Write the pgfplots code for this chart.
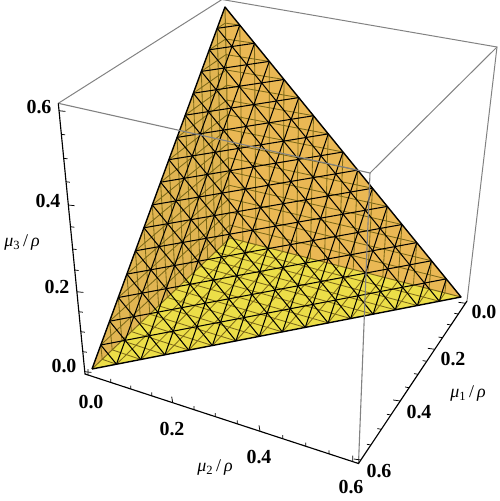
\documentclass[border=0pt]{standalone}
\usepackage{fontspec}
\setmainfont{Liberation Serif}
\usepackage{pgfplots}
\pgfplotsset{compat=1.18}

\definecolor{faceL}{RGB}{225,181,82}
\definecolor{faceR}{RGB}{234,184,84}
\definecolor{faceB}{RGB}{236,222,72}
\definecolor{backmesh}{RGB}{125,105,25}
\definecolor{boxgray}{RGB}{130,130,130}

\newcommand{\tl}[1]{\fontsize{20}{22}\selectfont\bfseries #1}
\newcommand{\al}[2]{\fontsize{18}{20}\selectfont\textit{μ}\textsubscript{#1}\,/\,\textit{ρ}}

\begin{document}
\begin{tikzpicture}
\path[use as bounding box] (0,0) rectangle (500bp,501bp);
\begin{axis}[
  at={(0,0)}, anchor=south west,
  scale only axis, width=500bp, height=501bp,
  xmin=0, xmax=500, ymin=0, ymax=501,
  y dir=reverse,
  hide axis,
  clip=false,
  unbounded coords=jump,
]
% the box is in perspective, so everything is given in projected picture coordinates

% back box edges
\addplot[boxgray, line width=1pt] coordinates {(58.3,103.3) (222,-0.5) (497,47) (467,301)};
\addplot[boxgray, line width=1pt] coordinates {(497,47) (370,173)};

% faces of the simplex
\addplot[fill=faceL, draw=none] coordinates {(92,369) (230,238) (225,7)};
\addplot[fill=faceR, draw=none] coordinates {(461,297) (230,238) (225,7)};
\addplot[fill=faceB, draw=none] coordinates {(92,369) (230,238) (461,297)};

% mesh on the three back faces
\addplot[backmesh, line width=0.85pt] coordinates {
(116.5,364.2) (102.2,359.3) (100.8,345.0) (nan,nan)
(140.8,359.5) (112.2,349.8) (109.6,321.2) (nan,nan)
(164.9,354.8) (121.9,340.6) (118.3,297.5) (nan,nan)
(188.7,350.1) (131.4,331.6) (126.9,274.1) (nan,nan)
(212.4,345.5) (140.7,322.8) (135.4,250.8) (nan,nan)
(235.9,340.9) (149.8,314.2) (143.9,227.8) (nan,nan)
(259.3,336.4) (158.6,305.8) (152.3,204.9) (nan,nan)
(282.4,331.9) (167.3,297.5) (160.6,182.2) (nan,nan)
(305.3,327.4) (175.7,289.5) (168.9,159.7) (nan,nan)
(328.1,322.9) (184.0,281.7) (177.1,137.4) (nan,nan)
(350.7,318.5) (192.1,274.0) (185.2,115.2) (nan,nan)
(373.1,314.2) (200.0,266.5) (193.3,93.2) (nan,nan)
(395.3,309.8) (207.7,259.1) (201.3,71.4) (nan,nan)
(417.4,305.5) (215.3,251.9) (209.3,49.8) (nan,nan)
(439.3,301.2) (222.7,244.9) (217.2,28.3)
};
\addplot[backmesh, line width=0.85pt] coordinates {
(116.5,364.2) (242.9,241.3) (239.75,25.1) (nan,nan)
(140.8,359.5) (256.0,244.6) (254.5,43.25) (nan,nan)
(164.9,354.8) (269.3,248.0) (269.25,61.4) (nan,nan)
(188.7,350.1) (282.8,251.5) (284,79.5) (nan,nan)
(212.4,345.5) (296.4,255.0) (298.75,97.6) (nan,nan)
(235.9,340.9) (310.3,258.5) (313.5,115.75) (nan,nan)
(259.3,336.4) (324.4,262.1) (328.25,133.9) (nan,nan)
(282.4,331.9) (338.7,265.8) (343,152) (nan,nan)
(305.3,327.4) (353.2,269.5) (357.75,170.1) (nan,nan)
(328.1,322.9) (367.9,273.2) (372.5,188.25) (nan,nan)
(350.7,318.5) (382.8,277.0) (387.25,206.4) (nan,nan)
(373.1,314.2) (398.0,280.9) (402,224.5) (nan,nan)
(395.3,309.8) (413.4,284.8) (416.75,242.6) (nan,nan)
(417.4,305.5) (429.0,288.8) (431.5,260.75) (nan,nan)
(439.3,301.2) (444.9,292.9) (446.25,278.9)
};
\addplot[backmesh, line width=0.85pt] coordinates {
(100.8,345.0) (229.7,225.1) (446.25,278.9) (nan,nan)
(109.6,321.2) (229.4,212.0) (431.5,260.75) (nan,nan)
(118.3,297.5) (229.1,198.7) (416.75,242.6) (nan,nan)
(126.9,274.1) (228.9,185.2) (402,224.5) (nan,nan)
(135.4,250.8) (228.6,171.6) (387.25,206.4) (nan,nan)
(143.9,227.8) (228.3,157.7) (372.5,188.25) (nan,nan)
(152.3,204.9) (228.0,143.6) (357.75,170.1) (nan,nan)
(160.6,182.2) (227.6,129.3) (343,152) (nan,nan)
(168.9,159.7) (227.3,114.8) (328.25,133.9) (nan,nan)
(177.1,137.4) (227.0,100.1) (313.5,115.75) (nan,nan)
(185.2,115.2) (226.7,85.2) (298.75,97.6) (nan,nan)
(193.3,93.2) (226.4,70.0) (284,79.5) (nan,nan)
(201.3,71.4) (226.0,54.6) (269.25,61.4) (nan,nan)
(209.3,49.8) (225.7,39.0) (254.5,43.25) (nan,nan)
(217.2,28.3) (225.3,23.1) (239.75,25.1)
};
% inner edges of the simplex
\addplot[backmesh, line width=1pt] coordinates {(92,369) (230,238) (461,297) (nan,nan) (230,238) (225,7)};

% mesh on the front face
\addplot[black, line width=1.05pt] coordinates {
(116.5,364.2) (100.8,345.0) (nan,nan)
(140.8,359.5) (109.6,321.2) (nan,nan)
(164.9,354.8) (118.3,297.5) (nan,nan)
(188.7,350.1) (126.9,274.1) (nan,nan)
(212.4,345.5) (135.4,250.8) (nan,nan)
(235.9,340.9) (143.9,227.8) (nan,nan)
(259.3,336.4) (152.3,204.9) (nan,nan)
(282.4,331.9) (160.6,182.2) (nan,nan)
(305.3,327.4) (168.9,159.7) (nan,nan)
(328.1,322.9) (177.1,137.4) (nan,nan)
(350.7,318.5) (185.2,115.2) (nan,nan)
(373.1,314.2) (193.3,93.2) (nan,nan)
(395.3,309.8) (201.3,71.4) (nan,nan)
(417.4,305.5) (209.3,49.8) (nan,nan)
(439.3,301.2) (217.2,28.3)
};
\addplot[black, line width=1.05pt] coordinates {
(116.5,364.2) (239.75,25.1) (nan,nan)
(140.8,359.5) (254.5,43.25) (nan,nan)
(164.9,354.8) (269.25,61.4) (nan,nan)
(188.7,350.1) (284,79.5) (nan,nan)
(212.4,345.5) (298.75,97.6) (nan,nan)
(235.9,340.9) (313.5,115.75) (nan,nan)
(259.3,336.4) (328.25,133.9) (nan,nan)
(282.4,331.9) (343,152) (nan,nan)
(305.3,327.4) (357.75,170.1) (nan,nan)
(328.1,322.9) (372.5,188.25) (nan,nan)
(350.7,318.5) (387.25,206.4) (nan,nan)
(373.1,314.2) (402,224.5) (nan,nan)
(395.3,309.8) (416.75,242.6) (nan,nan)
(417.4,305.5) (431.5,260.75) (nan,nan)
(439.3,301.2) (446.25,278.9)
};
\addplot[black, line width=1.05pt] coordinates {
(100.8,345.0) (446.25,278.9) (nan,nan)
(109.6,321.2) (431.5,260.75) (nan,nan)
(118.3,297.5) (416.75,242.6) (nan,nan)
(126.9,274.1) (402,224.5) (nan,nan)
(135.4,250.8) (387.25,206.4) (nan,nan)
(143.9,227.8) (372.5,188.25) (nan,nan)
(152.3,204.9) (357.75,170.1) (nan,nan)
(160.6,182.2) (343,152) (nan,nan)
(168.9,159.7) (328.25,133.9) (nan,nan)
(177.1,137.4) (313.5,115.75) (nan,nan)
(185.2,115.2) (298.75,97.6) (nan,nan)
(193.3,93.2) (284,79.5) (nan,nan)
(201.3,71.4) (269.25,61.4) (nan,nan)
(209.3,49.8) (254.5,43.25) (nan,nan)
(217.2,28.3) (239.75,25.1)
};
\addplot[black, line width=1.4pt, line join=round] coordinates {(92,369) (461,297) (225,7) (92,369)};

% front box edges
\addplot[boxgray, line width=1.1pt] coordinates {(58.3,103.3) (370,173) (358.5,463.5)};

% axes
\addplot[black, line width=1.15pt] coordinates {(58.3,103.3) (85,374) (358.5,463.5) (467,301)};

% mu3 ticks
\addplot[black, line width=0.75pt] coordinates {
(58.8,110.7) (65.3,111.4) (nan,nan) (61.1,134.3) (65.1,134.8) (nan,nan)
(63.5,158.3) (67.5,158.8) (nan,nan) (65.8,181.7) (69.8,182.2) (nan,nan)
(68.2,205) (74.7,205.7) (nan,nan) (70.3,226.7) (74.3,227.2) (nan,nan)
(72.5,249) (76.5,249.5) (nan,nan) (74.6,270) (78.6,270.5) (nan,nan)
(76.8,291.7) (83.3,292.4) (nan,nan) (78.8,311.7) (82.8,312.2) (nan,nan)
(80.8,331.7) (84.8,332.2) (nan,nan) (82.8,351.7) (86.8,352.2) (nan,nan)
(84.8,371.7) (91.3,372.4)
};
% mu2 ticks
\addplot[black, line width=0.75pt] coordinates {
(88,375) (88,369) (nan,nan) (110.7,382.4) (110.7,378.9) (nan,nan)
(130.7,389) (130.7,385.5) (nan,nan) (151.7,395.8) (151.7,392.3) (nan,nan)
(172.7,402.7) (171.7,396.7) (nan,nan) (194,409.7) (194,406.2) (nan,nan)
(215.3,416.6) (215.3,413.1) (nan,nan) (237.3,423.9) (237.3,420.4) (nan,nan)
(260,431.3) (259,425.3) (nan,nan) (282.7,438.7) (282.7,435.2) (nan,nan)
(305.7,446.2) (305.7,442.7) (nan,nan) (329,453.8) (329,450.3) (nan,nan)
(352.7,461.6) (352.7,455.6)
};
% mu1 ticks
\addplot[black, line width=0.75pt] coordinates {
(465.5,303.3) (458.5,302.3) (nan,nan) (458.3,314) (454.3,313.3) (nan,nan)
(451,325) (447,324.3) (nan,nan) (442.5,337.7) (438.5,337) (nan,nan)
(434.8,349.3) (427.8,348.3) (nan,nan) (426.7,361.3) (422.7,360.6) (nan,nan)
(418,374.3) (414,373.6) (nan,nan) (409.1,387.7) (405.1,387) (nan,nan)
(400.2,401) (393.2,400) (nan,nan) (390.9,415) (386.9,414.3) (nan,nan)
(381.3,429.3) (377.3,428.6) (nan,nan) (370.9,445) (366.9,444.3) (nan,nan)
(360.8,460) (353.8,459)
};

% tick labels
\node at (axis cs:39,107) {\tl{0.6}};
\node at (axis cs:48,201) {\tl{0.4}};
\node at (axis cs:57,287) {\tl{0.2}};
\node at (axis cs:64,366) {\tl{0.0}};
\node at (axis cs:91,402) {\tl{0.0}};
\node at (axis cs:172,429) {\tl{0.2}};
\node at (axis cs:259,457) {\tl{0.4}};
\node at (axis cs:351,487) {\tl{0.6}};
\node at (axis cs:484,312) {\tl{0.0}};
\node at (axis cs:453,359) {\tl{0.2}};
\node at (axis cs:419,412) {\tl{0.4}};
\node at (axis cs:379,471) {\tl{0.6}};

% axis labels
\node at (axis cs:22,243) {\al{3}{}};
\node at (axis cs:215,468) {\al{2}{}};
\node at (axis cs:468,394) {\al{1}{}};
\end{axis}
\end{tikzpicture}
\end{document}
